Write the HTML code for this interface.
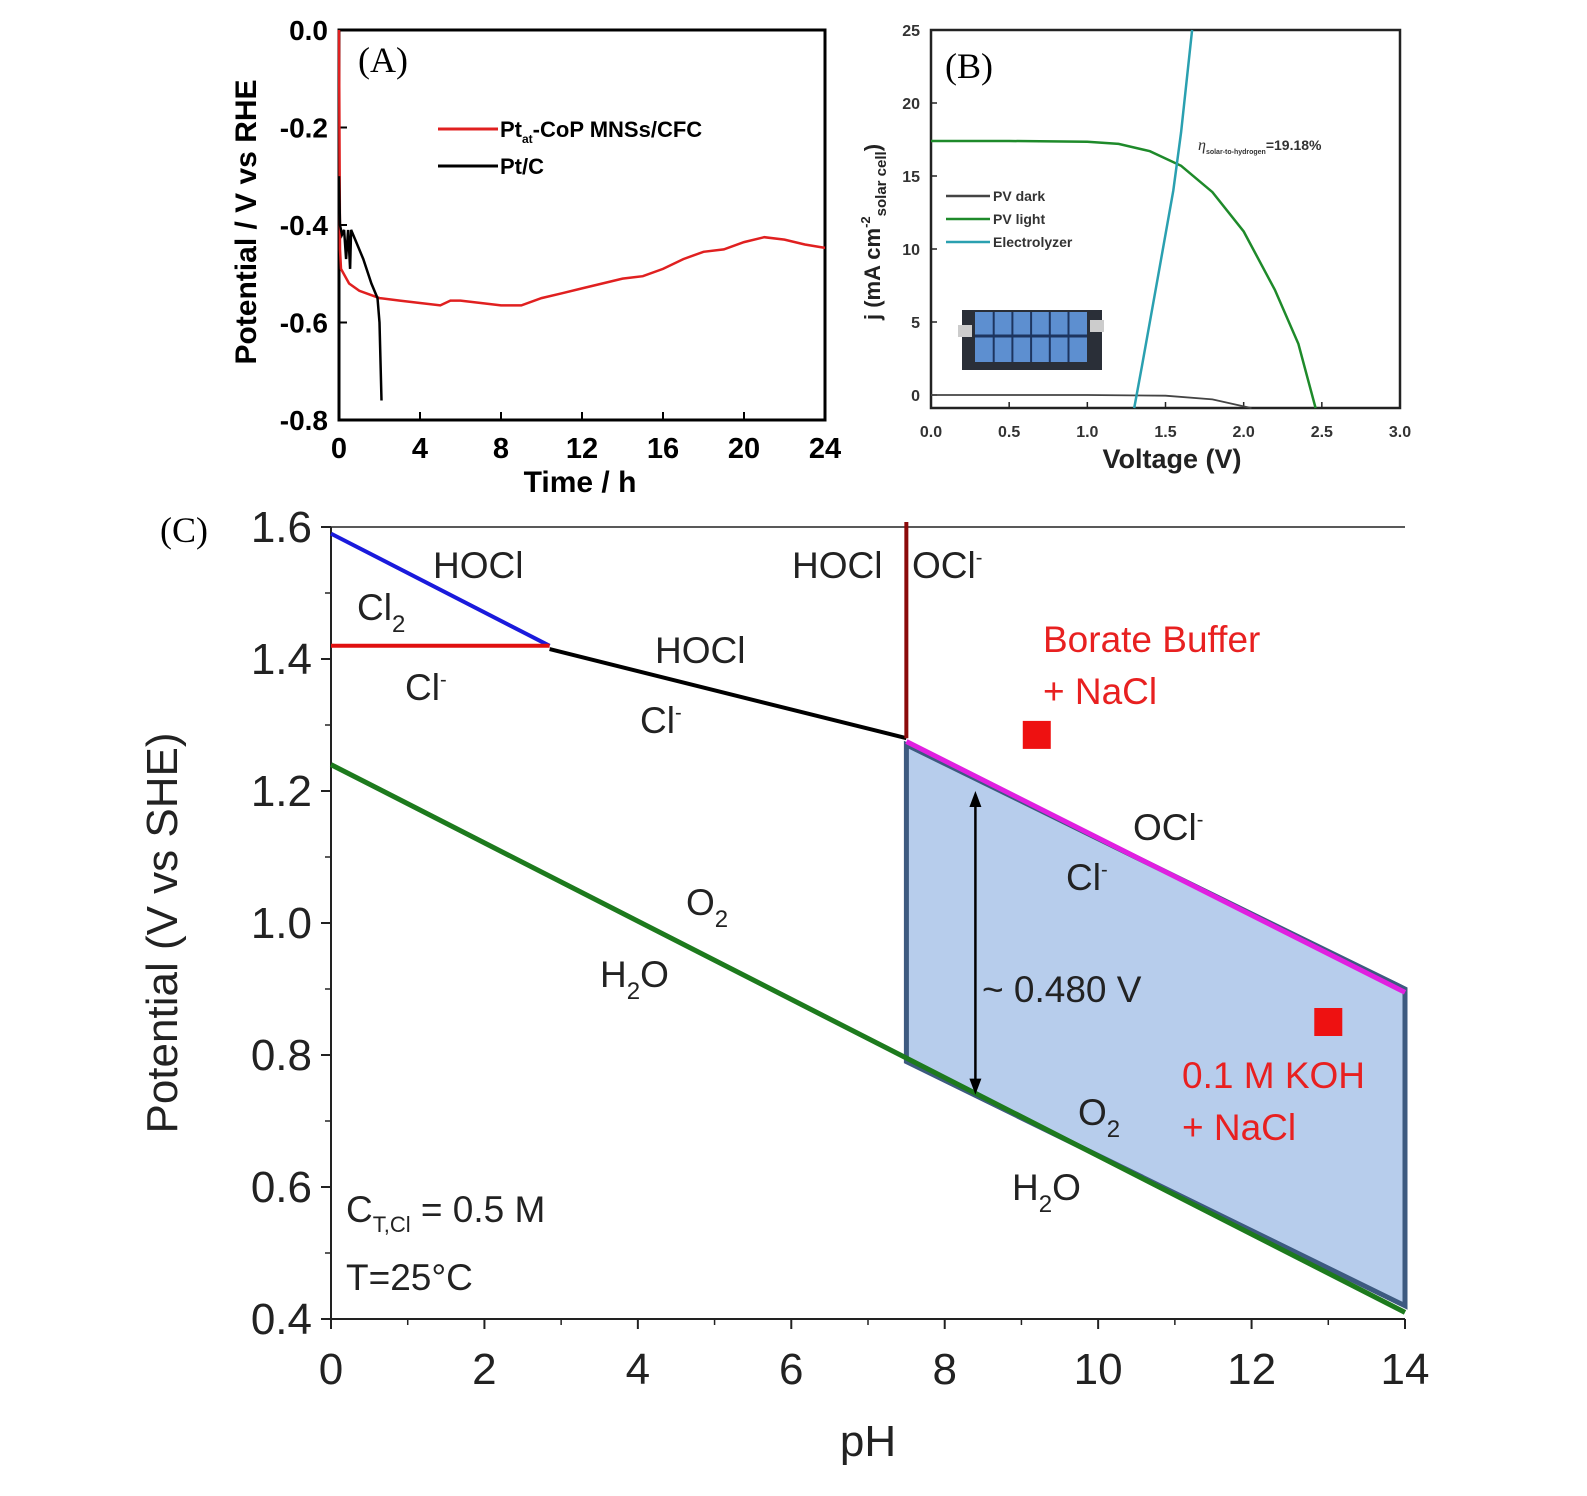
<!DOCTYPE html>
<html><head><meta charset="utf-8"><style>
body{margin:0;background:#fff}
svg{display:block;font-family:"Liberation Sans",Arial,sans-serif}
</style></head><body>
<svg width="1587" height="1496" viewBox="0 0 1587 1496" xmlns="http://www.w3.org/2000/svg">
<g id="A"></g>
<g id="B"></g>
<g id="C"></g>
</svg>
<script>
// Panel A data
const aTicksX=[0,4,8,12,16,20,24];
const aTicksY=[0,-0.2,-0.4,-0.6,-0.8];
const aRedT=[0,0.05,0.1,0.5,1,2,3,4,5,5.5,6,7,8,9,10,11,12,13,14,15,16,17,18,19,20,21,22,23,24];
const aRedV=[0,-0.45,-0.49,-0.52,-0.535,-0.55,-0.555,-0.56,-0.565,-0.555,-0.555,-0.56,-0.565,-0.565,-0.55,-0.54,-0.53,-0.52,-0.51,-0.505,-0.49,-0.47,-0.455,-0.45,-0.435,-0.425,-0.43,-0.44,-0.447];
const aBlkT=[0,0.05,0.15,0.25,0.35,0.45,0.55,0.6,0.8,1.2,1.6,1.9,2.0,2.1];
const aBlkV=[-0.3,-0.4,-0.42,-0.41,-0.47,-0.41,-0.49,-0.41,-0.43,-0.47,-0.52,-0.55,-0.6,-0.76];
// Panel B data
const bTicksX=[0,0.5,1,1.5,2,2.5,3];
const bTicksY=[0,5,10,15,20,25];
const bDarkV=[0,1,1.5,1.8,2.05];
const bDarkJ=[0,0,-0.05,-0.3,-0.9];
const bLightV=[0,0.5,1,1.2,1.4,1.6,1.8,2,2.2,2.35,2.46];
const bLightJ=[17.4,17.4,17.35,17.2,16.7,15.7,13.9,11.2,7.2,3.5,-0.9];
const bElecV=[1.3,1.35,1.45,1.55,1.6,1.67];
const bElecJ=[-0.9,2,8,14,18,25];
// Panel C data
const cTicksX=[0,2,4,6,8,10,12,14];
const cTicksY=[0.4,0.6,0.8,1.0,1.2,1.4,1.6];
const cBluePH=[0,2.85], cBlueE=[1.59,1.42];
const cRedPH=[0,2.85], cRedE=[1.42,1.42];
const cBlackPH=[2.85,7.5], cBlackE=[1.415,1.28];
const cMagPH=[7.5,14], cMagE=[1.275,0.895];
const cGreenPH=[0,14], cGreenE=[1.24,0.41];
const cRegionPH=[7.5,14,14,7.5], cRegionE=[1.27,0.9,0.42,0.79];
const cMarkPH=[9.2,13], cMarkE=[1.285,0.85];

const NS="http://www.w3.org/2000/svg";
function mk(p,tag,at,txt){const e=document.createElementNS(NS,tag);for(const k in at)e.setAttribute(k,at[k]);if(txt!==undefined)e.textContent=txt;p.appendChild(e);return e;}
function lin(d0,d1,r0,r1){return v=>r0+(v-d0)/(d1-d0)*(r1-r0);}
function pts(xs,ys,X,Y){return xs.map((x,i)=>X(x).toFixed(1)+","+Y(ys[i]).toFixed(1)).join(" ");}

// ---------- Panel A
(function(){
const g=document.getElementById('A');
const X=lin(0,24,339,825),Y=lin(0,-0.8,30,420);
let e=mk(g,'rect',{x:339,y:30,width:486,height:390,fill:'none',stroke:'#000','stroke-width':3});

aTicksX.forEach(t=>{mk(g,'line',{x1:X(t),x2:X(t),y1:420,y2:412,stroke:'#000','stroke-width':2});
 e=mk(g,'text',{x:X(t),y:458,'font-size':29,'font-weight':'bold','text-anchor':'middle'},String(t));
 });
aTicksY.forEach(t=>{mk(g,'line',{x1:339,x2:347,y1:Y(t),y2:Y(t),stroke:'#000','stroke-width':2});
 e=mk(g,'text',{x:328,y:Y(t)+10,'font-size':28,'font-weight':'bold','text-anchor':'end'},t===0?'0.0':t.toFixed(1));
 });
e=mk(g,'polyline',{points:pts(aRedT,aRedV,X,Y),fill:'none',stroke:'#e02020','stroke-width':2.5});

e=mk(g,'polyline',{points:pts(aBlkT,aBlkV,X,Y),fill:'none',stroke:'#000','stroke-width':2.5});

e=mk(g,'text',{x:580,y:492,'font-size':30,'font-weight':'bold','text-anchor':'middle'},'Time / h');

e=mk(g,'text',{x:0,y:0,'font-size':30,'font-weight':'bold','text-anchor':'middle',transform:'translate(256,222) rotate(-90)'},'Potential / V vs RHE');

e=mk(g,'text',{x:358,y:72,'font-size':36,'font-family':'Liberation Serif'},'(A)');

mk(g,'line',{x1:438,x2:498,y1:129,y2:129,stroke:'#e02020','stroke-width':3});
e=mk(g,'text',{x:500,y:137,'font-size':22,'font-weight':'bold'});
e.innerHTML='Pt<tspan font-size="12" dy="6">at</tspan><tspan dy="-6">-CoP MNSs/CFC</tspan>';

mk(g,'line',{x1:438,x2:498,y1:166,y2:166,stroke:'#000','stroke-width':3});
e=mk(g,'text',{x:500,y:174,'font-size':22,'font-weight':'bold'},'Pt/C');

})();

// ---------- Panel B
(function(){
const g=document.getElementById('B');
const X=lin(0,3,931,1400),Y=lin(0,25,395,30);
let e=mk(g,'rect',{x:931,y:30,width:469,height:378,fill:'none',stroke:'#222','stroke-width':2.5});

bTicksX.forEach(t=>{mk(g,'line',{x1:X(t),x2:X(t),y1:408,y2:402,stroke:'#222','stroke-width':1.5});
 e=mk(g,'text',{x:X(t),y:437,'font-size':16,'font-weight':'bold','text-anchor':'middle',fill:'#333'},t.toFixed(1));
 });
bTicksY.forEach(t=>{mk(g,'line',{x1:931,x2:937,y1:Y(t),y2:Y(t),stroke:'#222','stroke-width':1.5});
 e=mk(g,'text',{x:920,y:Y(t)+6,'font-size':16,'font-weight':'bold','text-anchor':'end',fill:'#333'},String(t));
 });
// inset photo
const ph=mk(g,'g',{});
mk(ph,'rect',{x:962,y:310,width:140,height:60,fill:'#2a2f38'});
mk(ph,'rect',{x:975,y:312,width:112,height:50,fill:'#5d8fd0'});
for(let i=1;i<6;i++)mk(ph,'line',{x1:975+i*18.7,x2:975+i*18.7,y1:312,y2:362,stroke:'#1d3560','stroke-width':2});
mk(ph,'line',{x1:975,x2:1087,y1:336,y2:336,stroke:'#1d3560','stroke-width':3});
mk(ph,'rect',{x:958,y:325,width:14,height:12,fill:'#ccc'});mk(ph,'rect',{x:1090,y:320,width:14,height:12,fill:'#ccc'});
e=mk(g,'polyline',{points:pts(bDarkV,bDarkJ,X,Y),fill:'none',stroke:'#444','stroke-width':1.8});

e=mk(g,'polyline',{points:pts(bLightV,bLightJ,X,Y),fill:'none',stroke:'#1e8a2a','stroke-width':2.5});

e=mk(g,'polyline',{points:pts(bElecV,bElecJ,X,Y),fill:'none',stroke:'#2aa0b0','stroke-width':2.5});

const leg=[['PV dark','#444',196],['PV light','#1e8a2a',219],['Electrolyzer','#2aa0b0',242]];
leg.forEach(l=>{mk(g,'line',{x1:946,x2:990,y1:l[2],y2:l[2],stroke:l[1],'stroke-width':2.5});
 e=mk(g,'text',{x:993,y:l[2]+5,'font-size':14,'font-weight':'bold',fill:'#333'},l[0]);
 });
e=mk(g,'text',{x:1198,y:150,'font-size':14,'font-weight':'bold',fill:'#333'});
e.innerHTML='<tspan font-style="italic" font-family="Liberation Serif" font-weight="normal" font-size="16">η</tspan><tspan font-size="7" dy="4">solar-to-hydrogen</tspan><tspan dy="-4">=19.18%</tspan>';

e=mk(g,'text',{x:1172,y:468,'font-size':27,'font-weight':'bold','text-anchor':'middle',fill:'#222'},'Voltage (V)');

e=mk(g,'text',{x:0,y:0,'font-size':22,'font-weight':'bold',fill:'#222',transform:'translate(880,320) rotate(-90)'});
e.innerHTML='j (mA cm<tspan font-size="13" dy="-10">-2</tspan><tspan font-size="15" dy="16">solar cell</tspan><tspan dy="-6">)</tspan>';

e=mk(g,'text',{x:945,y:78,'font-size':36,'font-family':'Liberation Serif'},'(B)');

})();

// ---------- Panel C
(function(){
const g=document.getElementById('C');
const X=lin(0,14,331,1405),Y=lin(0.4,1.6,1319,527);
let e=mk(g,'polygon',{points:pts(cRegionPH,cRegionE,X,Y),fill:'#b7cdec',stroke:'#3d5a80','stroke-width':5});

mk(g,'polyline',{points:'331,527 1405,527',stroke:'#222','stroke-width':1.5});
mk(g,'polyline',{points:'331,527 331,1319 1405,1319',fill:'none',stroke:'#222','stroke-width':2});
cTicksX.forEach(t=>{mk(g,'line',{x1:X(t),x2:X(t),y1:1319,y2:1329,stroke:'#222','stroke-width':2});
 if(t<14)mk(g,'line',{x1:X(t+1),x2:X(t+1),y1:1319,y2:1325,stroke:'#222','stroke-width':1.5});
 e=mk(g,'text',{x:X(t),y:1384,'font-size':44,'text-anchor':'middle',fill:'#222'},String(t));
 });
cTicksY.forEach(t=>{mk(g,'line',{x1:321,x2:331,y1:Y(t),y2:Y(t),stroke:'#222','stroke-width':2});
 if(t<1.6)mk(g,'line',{x1:325,x2:331,y1:Y(t+0.1),y2:Y(t+0.1),stroke:'#222','stroke-width':1.5});
 e=mk(g,'text',{x:312,y:Y(t)+15,'font-size':44,'text-anchor':'end',fill:'#222'},t.toFixed(1));
 });
const L=[[cGreenPH,cGreenE,'#1d7a1d',5,'h2o-o2-line'],[cBluePH,cBlueE,'#1a1adc',4,'cl2-hocl-line'],[cRedPH,cRedE,'#e01010',4,'cl2-cl-line'],[cBlackPH,cBlackE,'#000',4,'hocl-cl-line'],[cMagPH,cMagE,'#e020e0',5,'ocl-cl-line']];
L.forEach(l=>{e=mk(g,'polyline',{points:pts(l[0],l[1],X,Y),fill:'none',stroke:l[2],'stroke-width':l[3]});
 });
e=mk(g,'line',{x1:X(7.5),x2:X(7.5),y1:522,y2:Y(1.28),stroke:'#8b0a0a','stroke-width':4});

cMarkPH.forEach((p,i)=>{e=mk(g,'rect',{x:X(p)-14,y:Y(cMarkE[i])-14,width:28,height:28,fill:'#ee1111'});
 });
// arrow
const ax=X(8.4);
mk(g,'line',{x1:ax,x2:ax,y1:Y(1.2)+6,y2:Y(0.74)-6,stroke:'#000','stroke-width':2.5});
mk(g,'polygon',{points:`${ax},${Y(1.2)} ${ax-6},${Y(1.2)+16} ${ax+6},${Y(1.2)+16}`,fill:'#000'});
mk(g,'polygon',{points:`${ax},${Y(0.74)} ${ax-6},${Y(0.74)-16} ${ax+6},${Y(0.74)-16}`,fill:'#000'});
const T=[[433,578,'HOCl','#222'],[792,578,'HOCl','#222'],[655,663,'HOCl','#222'],[982,1002,'~ 0.480 V','#222'],[346,1222,'C<tspan font-size="22" dy="10">T,Cl</tspan><tspan dy="-10"> = 0.5 M</tspan>','#222'],[346,1290,'T=25°C','#222'],
[357,620,'Cl<tspan font-size="24" dy="12">2</tspan>','#222'],[405,700,'Cl<tspan font-size="20" dy="-14">-</tspan>','#222'],[640,733,'Cl<tspan font-size="20" dy="-14">-</tspan>','#222'],[912,578,'OCl<tspan font-size="20" dy="-14">-</tspan>','#222'],
[1133,840,'OCl<tspan font-size="20" dy="-14">-</tspan>','#222'],[1066,890,'Cl<tspan font-size="20" dy="-14">-</tspan>','#222'],[686,915,'O<tspan font-size="24" dy="12">2</tspan>','#222'],[600,987,'H<tspan font-size="24" dy="12">2</tspan><tspan dy="-12">O</tspan>','#222'],
[1078,1125,'O<tspan font-size="24" dy="12">2</tspan>','#222'],[1012,1200,'H<tspan font-size="24" dy="12">2</tspan><tspan dy="-12">O</tspan>','#222'],
[1043,652,'Borate Buffer','#e82020'],[1043,704,'+ NaCl','#e82020'],[1182,1088,'0.1 M KOH','#e82020'],[1182,1140,'+ NaCl','#e82020']];
T.forEach(t=>{e=mk(g,'text',{x:t[0],y:t[1],'font-size':37,fill:t[3]});e.innerHTML=t[2];
 });
e=mk(g,'text',{x:868,y:1456,'font-size':44,'text-anchor':'middle',fill:'#222'},'pH');

e=mk(g,'text',{x:0,y:0,'font-size':44,'text-anchor':'middle',fill:'#222',transform:'translate(177,933) rotate(-90)'},'Potential (V vs SHE)');

e=mk(g,'text',{x:160,y:542,'font-size':36,'font-family':'Liberation Serif'},'(C)');

})();
</script>
</body></html>
